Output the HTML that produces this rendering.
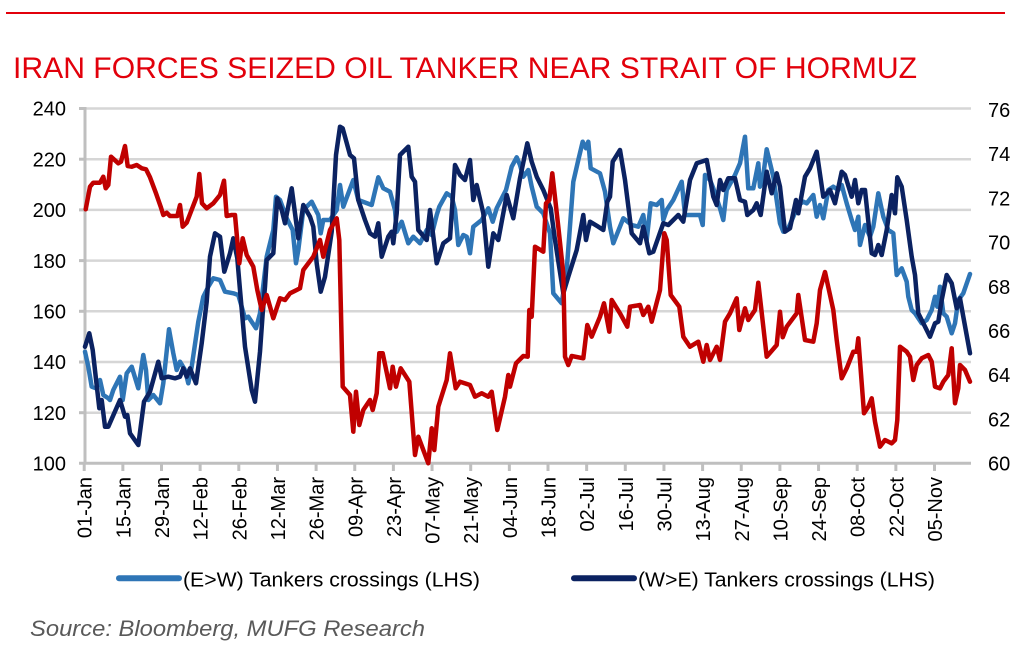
<!DOCTYPE html>
<html>
<head>
<meta charset="utf-8">
<style>
html,body{margin:0;padding:0;background:#fff;}
body{width:1030px;height:646px;overflow:hidden;}
svg{display:block;}
text{font-family:"Liberation Sans",Arial,sans-serif;}
</style>
</head>
<body>
<svg width="1030" height="646" viewBox="0 0 1030 646" xmlns="http://www.w3.org/2000/svg">
<rect x="0" y="0" width="1030" height="646" fill="#fff"/>
<line x1="6" y1="13" x2="1005" y2="13" stroke="#e2000b" stroke-width="2"/>
<text x="13" y="78" font-size="30" fill="#e2000b" textLength="904" lengthAdjust="spacingAndGlyphs">IRAN FORCES SEIZED OIL TANKER NEAR STRAIT OF HORMUZ</text>

<!-- gridlines -->
<g stroke="#d6d6d6" stroke-width="2.5">
<line x1="85" y1="108.5" x2="971" y2="108.5"/>
<line x1="85" y1="159.2" x2="971" y2="159.2"/>
<line x1="85" y1="209.9" x2="971" y2="209.9"/>
<line x1="85" y1="260.6" x2="971" y2="260.6"/>
<line x1="85" y1="311.3" x2="971" y2="311.3"/>
<line x1="85" y1="362.0" x2="971" y2="362.0"/>
<line x1="85" y1="412.7" x2="971" y2="412.7"/>
</g>
<!-- axes -->
<g stroke="#bfbfbf" stroke-width="3">
<line x1="85" y1="107" x2="85" y2="464.5"/>
<line x1="79" y1="463.3" x2="971" y2="463.3"/>
<line x1="79" y1="108.5" x2="85" y2="108.5"/>
<line x1="79" y1="159.2" x2="85" y2="159.2"/>
<line x1="79" y1="209.9" x2="85" y2="209.9"/>
<line x1="79" y1="260.6" x2="85" y2="260.6"/>
<line x1="79" y1="311.3" x2="85" y2="311.3"/>
<line x1="79" y1="362.0" x2="85" y2="362.0"/>
<line x1="79" y1="412.7" x2="85" y2="412.7"/>
</g>
<g stroke="#bfbfbf" stroke-width="3">
<line x1="84.2" y1="463" x2="84.2" y2="471"/>
<line x1="122.85" y1="463" x2="122.85" y2="471"/>
<line x1="161.5" y1="463" x2="161.5" y2="471"/>
<line x1="200.15" y1="463" x2="200.15" y2="471"/>
<line x1="238.8" y1="463" x2="238.8" y2="471"/>
<line x1="277.45" y1="463" x2="277.45" y2="471"/>
<line x1="316.1" y1="463" x2="316.1" y2="471"/>
<line x1="354.75" y1="463" x2="354.75" y2="471"/>
<line x1="393.4" y1="463" x2="393.4" y2="471"/>
<line x1="432.05" y1="463" x2="432.05" y2="471"/>
<line x1="470.7" y1="463" x2="470.7" y2="471"/>
<line x1="509.35" y1="463" x2="509.35" y2="471"/>
<line x1="548.0" y1="463" x2="548.0" y2="471"/>
<line x1="586.65" y1="463" x2="586.65" y2="471"/>
<line x1="625.3" y1="463" x2="625.3" y2="471"/>
<line x1="663.95" y1="463" x2="663.95" y2="471"/>
<line x1="702.6" y1="463" x2="702.6" y2="471"/>
<line x1="741.25" y1="463" x2="741.25" y2="471"/>
<line x1="779.9" y1="463" x2="779.9" y2="471"/>
<line x1="818.55" y1="463" x2="818.55" y2="471"/>
<line x1="857.2" y1="463" x2="857.2" y2="471"/>
<line x1="895.85" y1="463" x2="895.85" y2="471"/>
<line x1="934.5" y1="463" x2="934.5" y2="471"/>
</g>

<!-- left labels -->
<g font-size="20" fill="#000" text-anchor="end">
<text x="66" y="115.7">240</text>
<text x="66" y="166.4">220</text>
<text x="66" y="217.1">200</text>
<text x="66" y="267.8">180</text>
<text x="66" y="318.5">160</text>
<text x="66" y="369.2">140</text>
<text x="66" y="419.9">120</text>
<text x="66" y="470.6">100</text>
</g>
<!-- right labels -->
<g font-size="20" fill="#000">
<text x="988" y="117">76</text>
<text x="988" y="161.2">74</text>
<text x="988" y="205.4">72</text>
<text x="988" y="249.6">70</text>
<text x="988" y="293.8">68</text>
<text x="988" y="338">66</text>
<text x="988" y="382.2">64</text>
<text x="988" y="426.4">62</text>
<text x="988" y="470.6">60</text>
</g>
<!-- x labels -->
<g font-size="20" fill="#000" text-anchor="end">
<text transform="translate(91.7,477) rotate(-90)">01-Jan</text>
<text transform="translate(130.35,477) rotate(-90)">15-Jan</text>
<text transform="translate(169,477) rotate(-90)">29-Jan</text>
<text transform="translate(207.65,477) rotate(-90)">12-Feb</text>
<text transform="translate(246.3,477) rotate(-90)">26-Feb</text>
<text transform="translate(284.95,477) rotate(-90)">12-Mar</text>
<text transform="translate(323.6,477) rotate(-90)">26-Mar</text>
<text transform="translate(362.25,477) rotate(-90)">09-Apr</text>
<text transform="translate(400.9,477) rotate(-90)">23-Apr</text>
<text transform="translate(439.55,477) rotate(-90)">07-May</text>
<text transform="translate(478.2,477) rotate(-90)">21-May</text>
<text transform="translate(516.85,477) rotate(-90)">04-Jun</text>
<text transform="translate(555.5,477) rotate(-90)">18-Jun</text>
<text transform="translate(594.15,477) rotate(-90)">02-Jul</text>
<text transform="translate(632.8,477) rotate(-90)">16-Jul</text>
<text transform="translate(671.45,477) rotate(-90)">30-Jul</text>
<text transform="translate(710.1,477) rotate(-90)">13-Aug</text>
<text transform="translate(748.75,477) rotate(-90)">27-Aug</text>
<text transform="translate(787.4,477) rotate(-90)">10-Sep</text>
<text transform="translate(826.05,477) rotate(-90)">24-Sep</text>
<text transform="translate(864.7,477) rotate(-90)">08-Oct</text>
<text transform="translate(903.35,477) rotate(-90)">22-Oct</text>
<text transform="translate(942,477) rotate(-90)">05-Nov</text>
</g>

<!-- series -->
<g fill="none" stroke-width="4.5" stroke-linejoin="round" stroke-linecap="round">
<polyline stroke="#2e75b6" points="85,351.7 88.3,366.7 91.7,386.7 96,388.3 100,380 103.3,395 108.3,398.3 110,400 113.3,390 120,376.7 122.7,400 126.7,373.3 131.7,366.7 138.3,388.3 143.3,355 146,370 148.3,400 153.3,395 160,403.3 163.3,383.3 169,329.3 173.3,353.3 176.7,370 180,361.7 185,370 188.3,383.3 191.7,366.7 198.3,321.7 203.3,296.7 208.3,286.7 213.3,278.3 220,280 225,291.7 233.3,293.3 238.3,295 245,318.3 248.3,316.7 256,328.3 260,313.3 266.7,256.7 273.3,230 276,196.7 280,200 286.7,218.3 292.7,230 296,263.3 298.3,250 303.3,210 311.7,201.7 318.3,215 320.7,233.3 323.3,220 330,220 336.7,210 340,185 343.3,206.7 353.3,180 358.3,200 371.7,205 378.3,177.3 383.3,188.3 390,191.7 395,210 396.7,231.7 401.7,221.7 408.3,243.3 413.3,236.7 420,243.3 426.7,230 431.7,235 436.7,215 439.3,206.7 446.7,193.3 451.7,196.7 455,210 458.3,245 463.3,235 466.7,236.7 470,253.3 473.3,226.7 481.7,220 488.3,208.3 492.7,221.7 496.7,208.3 500,201.7 506,190 511.7,166.7 516.7,157.3 520,165 523.3,176.7 528.3,170 531.7,186.7 536.7,206.7 543.3,213.3 550,233.3 553.3,293.3 561.7,303.3 566.7,270 573.3,181.7 578.3,160 582.7,141.7 586,148.3 588.3,141.7 590.7,168.3 600,173.3 605,191.7 610,226.7 613.3,243.3 623.3,218.3 631.7,225 638.3,226.7 643.3,215 646.7,240 650.7,203.3 656.7,205 661.7,200 663.3,220 666.7,210 673.3,200 681.7,181.7 685,215 700,215 702.7,225 705,175 710,180 713.3,188.3 720,208.3 723.3,220 726.7,190 735,175 740,163.3 745,136.7 748.3,188.3 753.3,188.3 758.3,163.3 760,186.7 763.3,175 766.7,149.3 773.3,176.7 780,223.3 783.3,231.7 788.3,228.3 793.3,216.7 798.3,205 803.3,201.7 806.7,203.3 813.3,195 816.7,216.7 820,205 823.3,218.3 828.3,190 833.3,186.7 838.3,190 841.7,185 846.7,203.3 851.7,220 855,230 858.3,216.7 860,245 865,225 870,236.7 873.3,226.7 878.3,193.3 883.3,216.7 888.3,230 893.3,233.3 896.7,275 901.7,268.3 906.7,281.7 908.3,296.7 911.7,310 915,313.3 921.7,323.3 926.7,320 931.7,310 935,296.7 937.3,306.7 940,286.7 943.3,313.3 946.7,316.7 951.7,333.3 955,323.3 958.3,300 963.3,293.3 970,274"/>
<polyline stroke="#0b2261" points="85,346.7 89.3,333.3 92.7,350 99.3,408.3 101.7,400 105,426.7 108.3,426.7 120,400 125,416.7 127.3,415 130,433.3 138.3,445 144,401.7 150,391.7 158.3,361.7 161.7,378.3 168.3,376.7 175,378.3 180,376.7 183.3,368.3 186.7,376.7 190,368.3 196,383.3 201.7,343.3 206.7,301.7 210,256.7 215,233.3 220,236.7 224.3,271.7 230,253.3 233.3,238.3 237.3,258.3 240,290 245,346.7 251.7,390 255,401.7 260,351.7 262.7,313.3 265,286.7 266.7,260 273.3,253.3 277.3,198.3 281.7,210 285,223.3 291.7,188.3 298.3,238.3 303.3,205 310,216.7 313.3,226.7 316.7,263.3 320.7,291.7 325,276.7 331.7,231.7 336,155 340,126.7 342.7,128.3 350,155 354,158.3 358.3,200 365,220 370,233.3 375,236.7 378.3,223.3 381.7,256.7 388.3,236.7 391.7,231.7 393.3,243.3 396.7,213.3 400,155 408.3,146.7 411.7,176.7 415,181.7 418.3,230 426.7,240 430,210 436.7,263.3 443.3,243.3 450,238.3 455,165 460,175 465,180 470,160 473.3,200 476.7,185 483.3,213.3 488.3,266.7 493.3,233.3 498.3,240 506.7,195 513.3,218.3 520,178.3 527.3,143.3 531.7,161.7 536.7,176.7 543.3,190 550.7,208.3 555,240 563.3,293.3 568.3,276.7 576.7,250 583.3,215 586,240 590,221.7 598.3,226.7 603.3,230 607.3,201.7 610,196.7 612.7,161.7 620,150 625,180 631.7,233.3 640,243.3 643.3,226.7 649.3,253.3 653.3,251.7 663.3,223.3 668.3,225 678.3,215 683.3,221.7 690,180 696.7,163.3 706.7,160 713.3,196.7 716.7,205 720,180 723.3,190 728.3,178.3 735,178.3 740,200 745,201.7 747.3,215 753.3,210 756.7,203.3 760.7,215 766.7,171.7 771.7,193.3 776.7,173.3 780,186.7 785,231.7 790,228.3 796,200 798.3,213.3 805,176.7 810,168.3 816.7,151.7 823.3,196.7 830,190 835,203.3 841.7,171.7 845,175 851.7,196.7 855,180 858.3,203.3 861.7,190 865,190 871.7,253.3 875,255 878.3,245 881.7,255 886.7,230 891.7,195 895,213.3 897.3,177.3 901.7,186.7 906.7,220 911.7,256.7 915,275 918.3,313.3 923.3,323.3 930,336.7 935,323.3 938.3,321.7 941.7,300 946.7,275 951.7,283.3 956.7,308.3 960,298.3 963.3,316.7 970,353.3"/>
<polyline stroke="#c00000" points="85.7,209.3 90,186.7 93.3,182.7 100,182.7 103.3,176.7 105.7,188.3 108.3,185 111,156.7 118.3,163.3 121,161.7 125,146 127.7,166 131.7,166.7 136.7,165 141.7,168.3 146,169.3 150,177.3 156,193.3 160.7,206.7 163.3,215 166.7,212.7 170,216 177.3,216 180,205 182.7,226.7 186.7,222.7 196.7,196.7 199.3,174 202,203.3 206.7,208.3 213.3,203.3 220,195 224,180.7 226.7,216 231.7,215 235,215 239.3,263.3 242.7,238.3 246.7,255 253.3,266.7 257.3,290 261.7,310 266.7,295 273.3,318.3 280,298.3 285,300 290,293.3 296.7,290 300,288.3 303.3,270 313.3,256.7 320,240 323.3,256.7 330,230 336.7,218.3 339.3,240 342.7,386.7 350,395 353.3,431.7 356,391.7 359.3,425 363.3,410 370,400 372.7,410 376.7,393.3 379.3,353.3 382.7,353.3 390,388.3 392.7,366.7 396,386.7 400.7,368.3 409.3,381.7 415,455 418.3,436.7 428.3,463.3 431.7,428.3 434.3,450 438.3,406.7 446.7,380 450,353.3 455.7,388.3 460,381.7 470,385 475,396.7 481.7,393.3 488.3,396.7 491.7,391.7 497.3,430 505,396.7 508.3,375 510,386.7 516,363.3 523.3,356 527.7,356.7 529.3,310 531.7,316.7 535,246.7 543.3,251.7 546,203.3 549.3,200 552.3,173.3 558.3,226.7 563.3,273.3 565,356.7 568.3,365 571.7,356 583.3,358.3 587.3,325 591.7,336.7 600,316.7 604,303.3 609.3,331.7 611.7,300 620,313.3 627.3,326.7 630,306.7 640,305 643.3,315 648.3,306.7 651.7,321.7 660,290 664.3,233.3 666.7,240 670.7,295 679.3,306.7 683.3,336.7 690,346.7 698.3,341.7 703.3,361.7 706.7,345 710,360 716.7,346.7 720,360 725,321.7 730,313.3 736.7,298.3 739.3,330 745,308.3 748.3,320 755,310 758.3,282.7 766.7,356.7 776.7,345 780,311.7 782.7,337.3 786.7,326.7 796.7,313.3 798.3,295 805,340 813.3,341.7 816.7,323.3 820,290 825,272 833.3,310 836.7,340 841.7,378.3 846.7,368.3 853.3,351.7 856.7,351.7 858.3,338.3 864,413.3 868.3,406.7 871.7,398.3 875,421.7 880,446.7 885,440 891.7,443.3 895,440 897.3,420 900,346.7 906.7,351.7 910,356.7 913.3,380 916.7,365 921.7,358.3 928.3,355 931.7,361.7 935,386.7 940,388.3 943.3,381.7 948.3,375 951.7,348.3 955,403.3 958.3,388.3 960,365 965,370 970,381.7"/>
</g>

<!-- legend -->
<line x1="119" y1="578.3" x2="179" y2="578.3" stroke="#2e75b6" stroke-width="6" stroke-linecap="round"/>
<text x="183" y="586.5" font-size="20.5" fill="#000" textLength="297" lengthAdjust="spacingAndGlyphs">(E&gt;W) Tankers crossings (LHS)</text>
<line x1="574" y1="578.3" x2="634" y2="578.3" stroke="#0b2261" stroke-width="6" stroke-linecap="round"/>
<text x="638" y="586.5" font-size="20.5" fill="#000" textLength="297" lengthAdjust="spacingAndGlyphs">(W&gt;E) Tankers crossings (LHS)</text>

<text x="30" y="636" font-size="22" font-style="italic" fill="#595959" textLength="395" lengthAdjust="spacingAndGlyphs">Source: Bloomberg, MUFG Research</text>
</svg>
</body>
</html>
